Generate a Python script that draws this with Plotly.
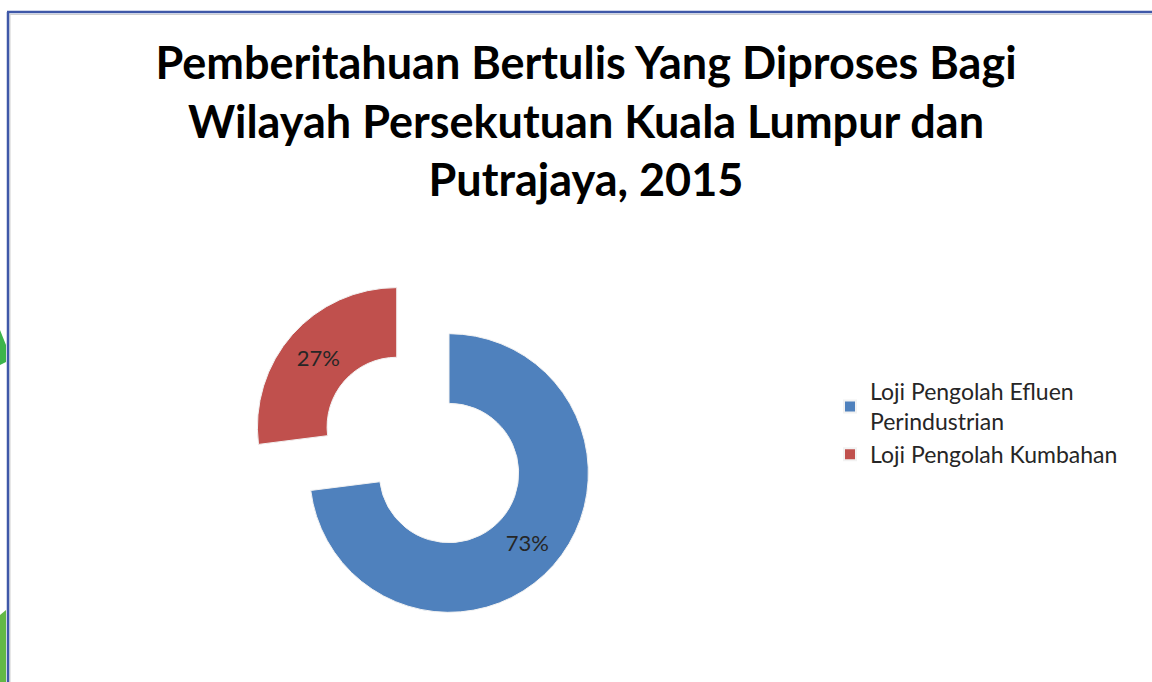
import plotly.graph_objects as go

labels = ["Loji Pengolah Efluen<br>Perindustrian", "Loji Pengolah Kumbahan"]
values = [73, 27]
colors = ["#4F81BD", "#C0504D"]
pulls = [0, 0.5]
title_text = "Pemberitahuan Bertulis Yang Diproses Bagi<br>Wilayah Persekutuan Kuala Lumpur dan<br>Putrajaya, 2015"

W, H = 1152, 682

def px(x):
    return x / W

def py(y):
    return 1 - y / H

fig = go.Figure(go.Pie(
    labels=labels,
    values=values,
    hole=0.5,
    sort=False,
    direction="clockwise",
    rotation=0,
    pull=pulls,
    marker=dict(colors=colors, line=dict(color="#F2F2F2", width=1)),
    textinfo="percent",
    textposition="inside",
    insidetextorientation="horizontal",
    textfont=dict(family="Lato", size=22, color="#262626"),
    domain=dict(x=[px(449 - 212), px(449 + 212)], y=[0, py(473 - 209)]),
))

fig.update_layout(
    width=W, height=H,
    margin=dict(l=0, r=0, t=0, b=0),
    paper_bgcolor="white",
    title=dict(
        text=title_text,
        x=px(586), xanchor="center",
        y=py(79), yanchor="top", yref="container",
        font=dict(family="Lato", size=45, color="#000000", weight="bold"),
    ),
    legend=dict(
        x=px(830), y=py(370), xanchor="left", yanchor="top",
        font=dict(family="Lato", size=23, color="#262626"),
        itemsizing="constant",
    ),
    shapes=[
        dict(type="path", xref="paper", yref="paper",
             path=f"M 0 {py(330)} L {px(6)} {py(345)} L {px(6)} {py(362)} L 0 {py(365)} Z",
             fillcolor="#3CB44B", line=dict(width=0)),
        dict(type="path", xref="paper", yref="paper",
             path=f"M 0 {py(615)} L {px(6)} {py(610)} L {px(6)} {py(682)} L 0 {py(682)} Z",
             fillcolor="#62B846", line=dict(width=0)),
        dict(type="line", xref="paper", yref="paper",
             x0=px(10), x1=px(10), y0=py(14), y1=0,
             line=dict(color="#D0D0D0", width=1)),
        dict(type="line", xref="paper", yref="paper",
             x0=px(10), x1=1, y0=py(14.5), y1=py(14.5),
             line=dict(color="#D0D0D0", width=1)),
        dict(type="line", xref="paper", yref="paper",
             x0=px(8), x1=px(8), y0=py(12), y1=0,
             line=dict(color="#3F58A8", width=2.5)),
        dict(type="line", xref="paper", yref="paper",
             x0=px(7), x1=1, y0=py(12), y1=py(12),
             line=dict(color="#3F58A8", width=2.5)),
    ],
)

fig.write_html("out.html", config={"displayModeBar": False},
               post_script="document.body.style.margin='0px';")
